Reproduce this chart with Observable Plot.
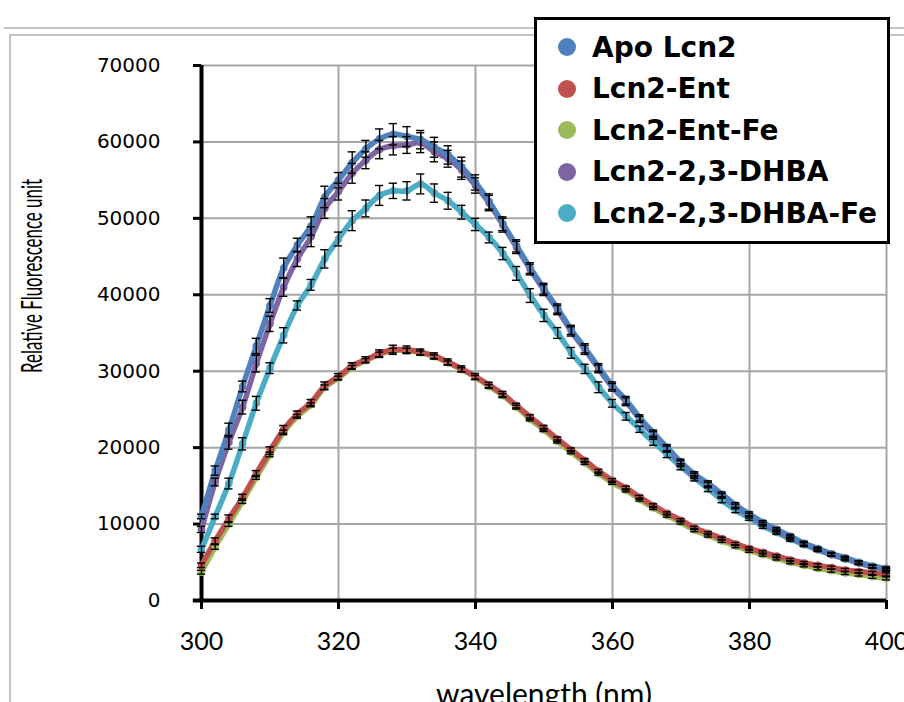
<!DOCTYPE html>
<html>
<head>
<meta charset="utf-8">
<script src="https://cdn.jsdelivr.net/npm/d3@7"></script>
<script src="https://cdn.jsdelivr.net/npm/@observablehq/plot@0.6"></script>
<style>
  html, body { margin: 0; padding: 0; background: #fff; }
  #wrap { position: relative; width: 904px; height: 702px; overflow: hidden; background: #fff; }
  .frameline { position: absolute; background: #c4c4c4; }
  #chart { position: absolute; left: 0; top: 0; }
  #legend { position: absolute; left: 534px; top: 17px; width: 356px; height: 227px; box-sizing: border-box;
            border: 3px solid #000; background: #fff; }
  .item { position: absolute; left: 0; height: 41.5px; display: flex; align-items: center; }
  .sw { width: 18px; height: 18px; border-radius: 50%; margin-left: 21px; margin-right: 16px; }
  .lab { font-family: "DejaVu Sans", sans-serif; font-weight: bold; font-size: 28px; color: #000; white-space: nowrap; }
</style>
</head>
<body>
<div id="wrap">
  <div class="frameline" style="left:4px; top:27px; width:900px; height:2px;"></div>
  <div class="frameline" style="left:9px; top:34px; width:895px; height:2px;"></div>
  <div class="frameline" style="left:9px; top:34px; width:2px; height:668px;"></div>
  <div id="chart"></div>
  <div id="legend"></div>
</div>
<script>
// ---- data ----
const wavelengths = [300,302,304,306,308,310,312,314,316,318,320,322,324,326,328,330,332,334,336,338,340,342,344,346,348,350,352,354,356,358,360,362,364,366,368,370,372,374,376,378,380,382,384,386,388,390,392,394,396,398,400];

const seriesNames = ["Apo Lcn2", "Lcn2-Ent", "Lcn2-Ent-Fe", "Lcn2-2,3-DHBA", "Lcn2-2,3-DHBA-Fe"];
const seriesColors = ["#4F81BD", "#C0504D", "#9BBB59", "#8064A2", "#4BACC6"];

const apoLcn2 = [11000,17000,22300,28000,33300,38600,43500,46500,49000,52800,55000,57300,59100,60400,61000,60700,60300,59300,58300,56700,54700,52200,49300,46400,43500,40800,38200,35400,33000,30500,28100,26200,23900,21900,20000,18100,16500,15300,13900,12500,11300,10200,9300,8400,7500,6800,6100,5600,5000,4500,4200];
const lcn2Ent = [4600,7800,10700,13500,16600,19600,22400,24400,25900,28100,29300,30700,31500,32300,32800,32800,32500,32000,31200,30300,29300,28200,27000,25500,24000,22600,21100,19700,18300,16900,15700,14700,13500,12400,11400,10500,9500,8800,8100,7400,6800,6300,5800,5300,4900,4600,4300,4000,3800,3600,3400];
const lcn2EntFe = [3700,7000,10000,13000,16100,19100,22000,24100,25600,27900,29100,30500,31400,32200,32700,32700,32400,31900,31100,30200,29200,28000,26800,25300,23700,22300,20800,19400,18000,16600,15400,14400,13200,12100,11100,10200,9200,8500,7800,7100,6500,6000,5500,5000,4600,4200,3900,3600,3400,3100,2900];
const lcn2Dhba = [9300,15500,20700,25300,31000,36200,41000,44700,47600,51300,53500,55900,57600,59000,59500,59600,59900,58700,57800,56300,54300,52000,49100,46200,43300,40600,38000,35200,32800,30300,27900,26000,23700,21700,19800,17900,16300,15100,13700,12300,11100,10000,9100,8200,7400,6700,6000,5500,4900,4400,4100];
const lcn2DhbaFe = [6700,11000,15300,20500,25800,30400,34700,38600,41300,44700,47300,49700,51300,53000,53600,53600,54500,53300,52300,50800,49200,47500,45400,42800,39900,37300,35000,32400,30300,27900,25800,24100,22400,20700,19100,17500,16000,14600,13100,11800,10800,9700,8900,8000,7300,6600,6000,5400,4900,4400,4000];

const apoLcn2Err = [300,600,900,700,1000,900,1300,900,1200,1400,1000,1400,1100,1300,1400,1300,1200,1300,1200,1300,1000,1000,900,800,700,700,600,600,600,500,500,500,400,400,400,400,350,350,300,300,300,250,250,250,250,200,200,200,200,200,200];
const lcn2EntErr = [300,400,500,400,400,500,500,400,400,500,400,400,400,500,600,500,400,400,400,400,400,350,350,300,300,300,300,250,250,250,250,250,250,250,200,200,200,200,200,200,200,200,200,200,200,200,200,200,200,200,200];
const lcn2EntFeErr = [250,300,300,300,250,300,300,250,250,300,250,250,250,300,300,300,250,250,250,250,250,250,250,250,200,200,200,200,200,200,200,200,200,200,200,200,200,200,200,200,200,200,200,200,200,200,200,200,200,200,200];
const lcn2DhbaErr = [400,500,900,900,1100,1000,1200,1000,1300,1300,1100,1300,1100,1200,1200,1100,1300,1300,1100,1200,1000,1000,900,800,700,700,600,600,600,500,500,500,400,400,400,400,350,350,300,300,300,250,250,250,250,200,200,200,200,200,200];
const lcn2DhbaFeErr = [400,300,700,800,900,700,1000,600,700,1200,900,1300,1100,1300,1000,1200,1300,1200,1100,900,800,700,800,900,900,800,700,700,600,700,500,500,400,400,400,400,350,350,300,300,300,250,250,250,250,200,200,200,200,200,200];

const xTicks = [300,320,340,360,380,400];
const yTicks = [0,10000,20000,30000,40000,50000,60000,70000];
const xTitle = "wavelength (nm)";
const yTitle = "Relative Fluorescence unit";

// ---- build table (drawn last series first, so Apo Lcn2 ends on top) ----
const seriesValues = [apoLcn2, lcn2Ent, lcn2EntFe, lcn2Dhba, lcn2DhbaFe];
const seriesErrors = [apoLcn2Err, lcn2EntErr, lcn2EntFeErr, lcn2DhbaErr, lcn2DhbaFeErr];
const drawOrder = seriesNames.map((_, i) => i).reverse();
const table = drawOrder.flatMap(s =>
  wavelengths.map((x, i) => ({
    series: seriesNames[s], x, y: seriesValues[s][i],
    lo: seriesValues[s][i] - seriesErrors[s][i],
    hi: seriesValues[s][i] + seriesErrors[s][i]
  }))
);
const capHalf = 0.6;

const chart = Plot.plot({
  width: 904, height: 702,
  marginLeft: 201, marginRight: 18, marginTop: 65, marginBottom: 102,
  style: { background: "transparent", fontFamily: "DejaVu Sans, sans-serif", color: "#000", overflow: "hidden" },
  x: { domain: [300, 400] },
  y: { domain: [0, 70000] },
  color: { domain: seriesNames, range: seriesColors },
  marks: [
    Plot.gridX({ ticks: xTicks.slice(1), stroke: "#a6a6a6", strokeOpacity: 1, strokeWidth: 2 }),
    Plot.gridY({ ticks: yTicks.slice(1), stroke: "#a6a6a6", strokeOpacity: 1, strokeWidth: 2 }),
    Plot.axisY({ ticks: yTicks, tickFormat: d => String(d), tickSize: 8, tickPadding: 33, fontSize: 20,
                 strokeWidth: 3, stroke: "#000", fill: "#000", label: null, fontFamily: "DejaVu Sans" }),
    Plot.axisX({ ticks: xTicks, tickFormat: d => String(d), tickSize: 9, tickPadding: 23, fontSize: 25,
                 strokeWidth: 3, stroke: "#000", fill: "#000", label: null, fontFamily: "Lato" }),
    Plot.ruleX([300], { stroke: "#000", strokeWidth: 4 }),
    Plot.ruleY([0], { stroke: "#000", strokeWidth: 4, x1: 298.8, x2: 400 }),
    Plot.line(table, { x: "x", y: "y", z: "series", stroke: "series", strokeWidth: 5.5, strokeLinejoin: "round", curve: "catmull-rom" }),
    Plot.dot(table, { x: "x", y: "y", fill: "series", r: 3.8 }),
    Plot.ruleX(table, { x: "x", y1: "lo", y2: "hi", stroke: "#000", strokeWidth: 1.4 }),
    Plot.ruleY(table, { y: "hi", x1: d => d.x - capHalf, x2: d => d.x + capHalf, stroke: "#000", strokeWidth: 1.4 }),
    Plot.ruleY(table, { y: "lo", x1: d => d.x - capHalf, x2: d => d.x + capHalf, stroke: "#000", strokeWidth: 1.4 }),
    Plot.text([xTitle], { frameAnchor: "bottom", lineAnchor: "top", dy: 83, fontSize: 30, fontFamily: "Lato", fill: "#000" }),
    Plot.text([yTitle], { frameAnchor: "left", rotate: -90, dx: -168, dy: 40, fontSize: 28, fontFamily: "Lato", fill: "#000" })
  ]
});

// narrow the rotated title to the reference's condensed look
d3.select(chart).selectAll("text").filter(function() { return this.textContent === yTitle; })
  .attr("textLength", 194).attr("lengthAdjust", "spacingAndGlyphs");

document.getElementById("chart").appendChild(chart);

// ---- legend ----
const legend = document.getElementById("legend");
seriesNames.forEach((name, i) => {
  const row = document.createElement("div");
  row.className = "item";
  row.style.top = (6.25 + i * 41.5) + "px";
  const sw = document.createElement("span");
  sw.className = "sw";
  sw.style.background = seriesColors[i];
  const lab = document.createElement("span");
  lab.className = "lab";
  lab.textContent = name;
  row.appendChild(sw);
  row.appendChild(lab);
  legend.appendChild(row);
});
</script>
</body>
</html>
